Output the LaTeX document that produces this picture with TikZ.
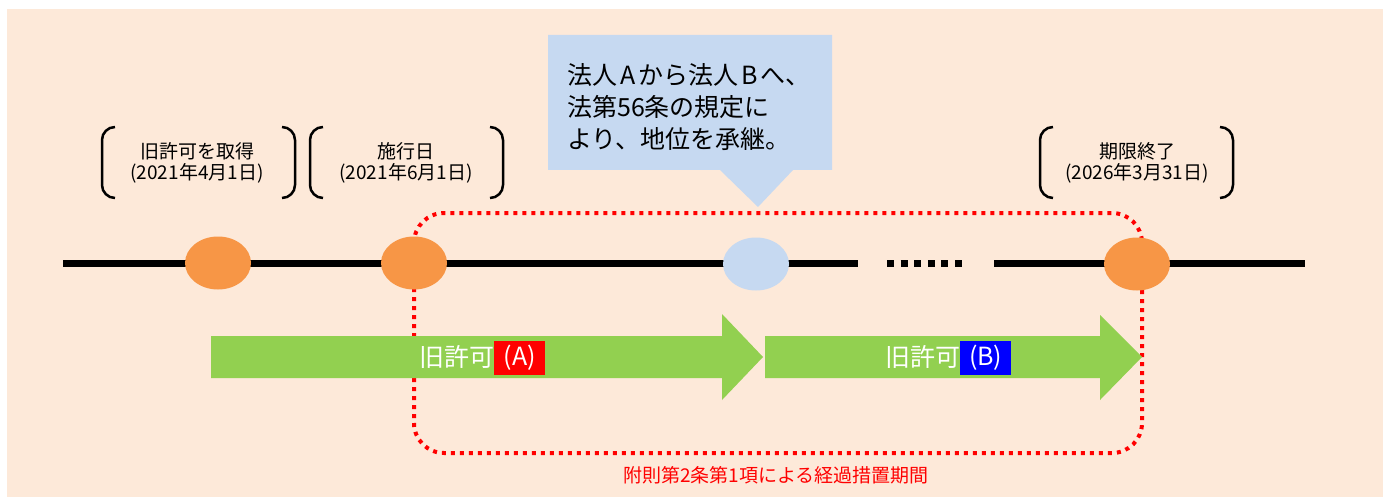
\documentclass[tikz,border=0pt]{standalone}
\usepackage{fontspec}
\setmainfont{Noto Sans CJK JP}
\usetikzlibrary{shapes.geometric}
\definecolor{bgc}{HTML}{FDE9D9}
\definecolor{orng}{HTML}{F79646}
\definecolor{lblue}{HTML}{C6D9F1}
\definecolor{grn}{HTML}{92D050}
\definecolor{pblue}{HTML}{0000FF}
\definecolor{pred}{HTML}{FF0000}
\tikzset{
  dot/.style={ellipse, minimum width=66pt, minimum height=53pt, inner sep=0pt},
  brk/.style={line width=2.5pt, rounded corners=13pt},
  lbl/.style={align=center, inner sep=0pt, font=\fontsize{19}{21}\selectfont},
  atext/.style={inner sep=0pt, text=white, font=\fontsize{25}{30}\selectfont},
  abox/.style={inner sep=0pt, text=white, minimum width=51pt, minimum height=34pt, font=\fontsize{25}{30}\selectfont},
  tline/.style={line width=7pt},
}
\begin{document}
\begin{tikzpicture}[x=1pt,y=-1pt]
\useasboundingbox (0,0) rectangle (1383,497);
\fill[bgc] (7,9) rectangle (1383,497);
% transitional period frame
\draw[pred, line width=4pt, dash pattern=on 4pt off 5pt, rounded corners=30pt] (414,213) rectangle (1142,453);
% timeline
\draw[tline] (63,263) -- (858,263);
\draw[tline, dash pattern=on 7pt off 6.6pt] (887,263) -- (962,263);
\draw[tline] (994,263) -- (1305,263);
\node[dot, fill=orng] (e1) at (218,263) {};
\node[dot, fill=orng] (e2) at (414,263) {};
\node[dot, fill=lblue] (e3) at (756,264) {};
\node[dot, fill=orng] (e4) at (1137,264) {};
% arrows
\fill[grn] (211,336) -- (722,336) -- (722,314) -- (763,357) -- (722,400) -- (722,378) -- (211,378) -- cycle;
\fill[grn] (765,336) -- (1100,336) -- (1100,315) -- (1142,357) -- (1100,400) -- (1100,378) -- (765,378) -- cycle;
\node[atext, anchor=east] (tA) at (495,357) {旧許可};
\node[abox, fill=pred, anchor=west] (bA) at (494,357.5) {(A)};
\node[atext, anchor=east] (tB) at (961,357) {旧許可};
\node[abox, fill=pblue, anchor=west] (bB) at (960,357.5) {(B)};
% callout
\fill[lblue] (548,35) -- (832,35) -- (832,170) -- (793,170) -- (758,207) -- (720,170) -- (548,170) -- cycle;
\node[anchor=west, align=left, inner sep=0pt, font=\fontsize{25}{32}\selectfont] (call) at (567,107) {法人\hspace{3pt}A\hspace{3pt}から法人\hspace{3pt}B\hspace{3pt}へ、\\法第56条の規定に\\より、地位を承継。};
% bracket labels
\node[lbl] (l1) at (197,163) {旧許可を取得\\(2021年4月1日)};
\draw[brk] (115,127) -- (102,127) -- (102,198) -- (115,198);
\draw[brk] (282,127) -- (295,127) -- (295,198) -- (282,198);
\node[lbl] (l2) at (406,163) {施行日\\(2021年6月1日)};
\draw[brk] (323,127) -- (310,127) -- (310,198) -- (323,198);
\draw[brk] (490,127) -- (503,127) -- (503,198) -- (490,198);
\node[lbl] (l3) at (1137,163) {期限終了\\(2026年3月31日)};
\draw[brk] (1053,127) -- (1040,127) -- (1040,198) -- (1053,198);
\draw[brk] (1220,127) -- (1233,127) -- (1233,198) -- (1220,198);
% period label
\node[text=pred, inner sep=0pt, font=\fontsize{19}{22}\selectfont] (per) at (776,475) {附則第2条第1項による経過措置期間};
\end{tikzpicture}
\end{document}
